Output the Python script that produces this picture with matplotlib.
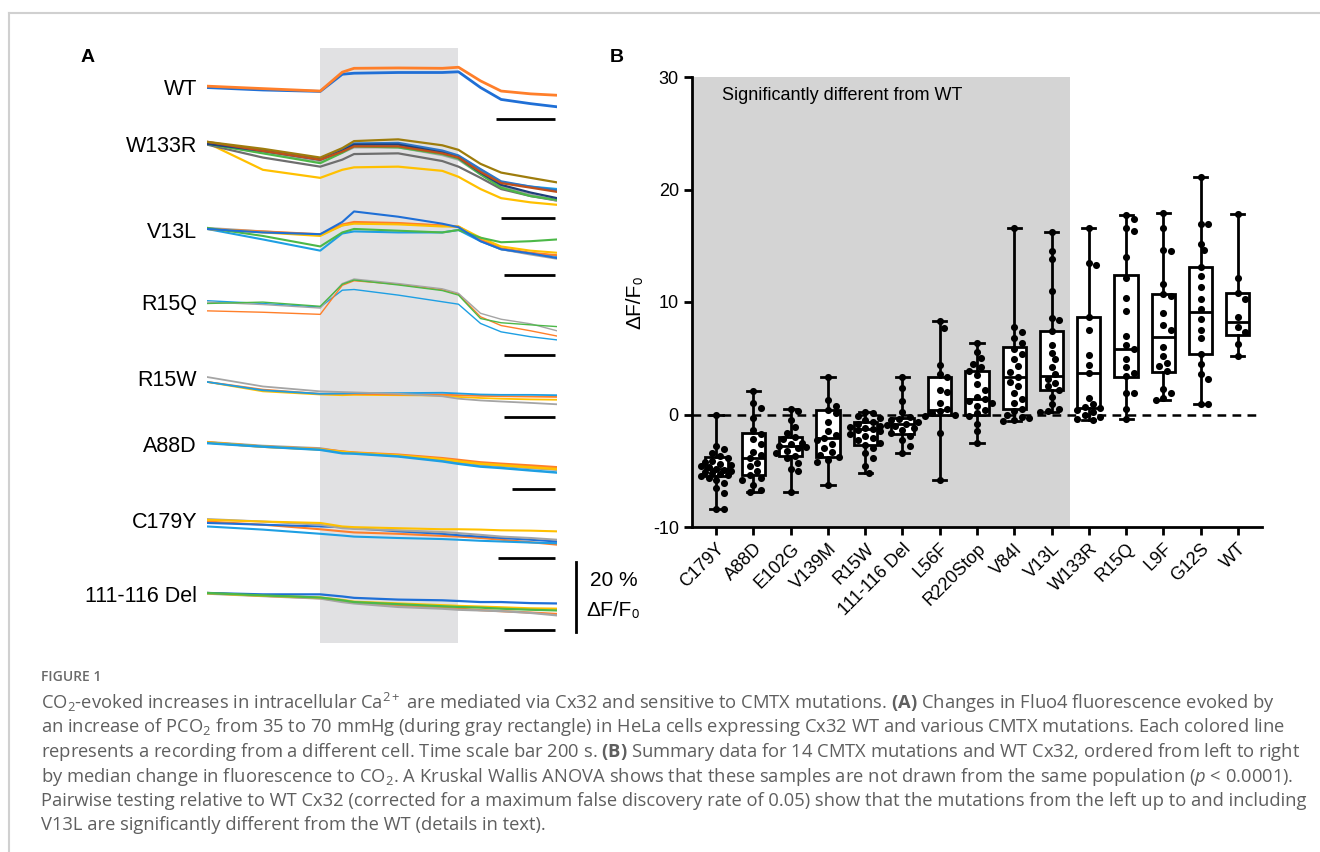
import matplotlib.pyplot as plt
import numpy as np
from matplotlib.patches import Rectangle
from matplotlib.lines import Line2D

W, H = 1320, 852
ARIAL = ['Liberation Sans', 'DejaVu Sans']
CAPFONT = 'Open Sans'

plt.rcParams['axes.unicode_minus'] = False
plt.rcParams['mathtext.fontset'] = 'custom'
plt.rcParams['mathtext.rm'] = CAPFONT
plt.rcParams['mathtext.it'] = CAPFONT + ':italic'
plt.rcParams['mathtext.bf'] = CAPFONT + ':bold'

# ---------------- panel A data (% dF/F0, relative to each group's start) ----------------
trace_time = [0, 190, 385, 460, 500, 650, 800, 855, 930, 1000, 1100, 1190]
stim_on, stim_off = 385, 853

wt = [
    [-0.4, -1.1, -1.5, 3.4, 3.7, 3.9, 3.9, 4.1, -0.4, -3.8, -5.0, -5.9],
    [0.0, -0.7, -1.4, 4.0, 5.1, 5.2, 5.1, 5.4, 1.5, -1.4, -2.2, -2.6],
]
w133r = [
    [0.0, -7.7, -10.0, -7.7, -7.0, -6.8, -8.0, -9.7, -13.2, -15.8, -17.0, -17.7],
    [-0.5, -4.2, -6.8, -4.8, -3.2, -3.0, -5.2, -6.8, -10.0, -13.2, -15.2, -16.5],
    [-0.3, -2.8, -5.2, -2.8, -1.3, -1.3, -3.5, -4.8, -9.0, -12.5, -14.8, -16.5],
    [-0.3, -3.0, -5.8, -2.8, -1.0, -1.3, -3.2, -4.5, -9.0, -12.8, -15.2, -16.3],
    [0.0, -2.0, -4.5, -1.7, -0.3, -0.3, -2.5, -3.8, -7.7, -11.3, -12.5, -13.2],
    [0.0, -2.2, -4.6, -2.0, -0.2, 0.0, -2.2, -3.6, -7.5, -11.0, -12.5, -13.6],
    [-0.3, -2.3, -4.8, -2.3, -0.5, -0.5, -2.8, -4.2, -8.5, -12.0, -14.2, -15.8],
    [0.3, -2.3, -4.8, -2.5, -1.0, -1.0, -3.0, -4.2, -8.3, -11.5, -12.8, -14.0],
    [0.3, -1.7, -4.2, -1.5, 0.5, 1.0, -0.7, -2.0, -6.0, -8.5, -10.0, -11.3],
]
v13l = [
    [0.0, -3.0, -6.2, -1.3, -0.7, -1.0, -1.0, -0.3, -3.5, -5.8, -7.0, -7.7],
    [0.3, -0.7, -1.7, 1.0, 1.7, 1.5, 1.0, 0.5, -3.2, -5.8, -7.3, -8.5],
    [0.0, -0.7, -1.5, 1.3, 2.0, 1.7, 1.0, 0.7, -3.0, -5.5, -6.8, -7.5],
    [0.0, -1.0, -2.0, 1.0, 1.5, 1.3, 0.7, 0.7, -2.5, -5.0, -6.2, -6.8],
    [0.3, -2.0, -5.0, -1.0, 0.0, -0.5, -1.0, -0.3, -2.5, -3.8, -3.5, -3.0],
    [0.0, -1.0, -1.5, 2.0, 5.0, 3.5, 1.5, 0.5, -3.5, -5.8, -7.0, -8.3],
]
r15q = [
    [0.1, -0.7, -1.7, 3.1, 3.3, 1.7, -0.2, -0.9, -6.4, -8.8, -10.2, -11.1],
    [-2.8, -3.2, -3.8, 4.5, 5.8, 4.8, 3.2, 2.0, -4.5, -7.0, -8.5, -10.0],
    [-0.3, -1.0, -2.0, 5.0, 6.3, 5.0, 3.5, 2.2, -3.5, -5.2, -6.5, -8.5],
    [-0.7, -0.3, -1.5, 4.8, 6.0, 4.6, 3.0, 1.7, -5.0, -6.2, -6.8, -7.3],
]
r15w = [
    [-1.4, -4.1, -5.0, -5.2, -5.1, -5.2, -5.3, -5.7, -6.0, -6.2, -6.4, -6.5],
    [-1.4, -3.6, -4.8, -4.8, -4.8, -5.0, -5.0, -5.2, -5.4, -5.5, -5.6, -5.7],
    [-1.4, -3.8, -4.8, -4.7, -4.6, -4.6, -4.5, -4.7, -5.0, -5.1, -5.1, -5.2],
    [0.0, -2.7, -4.1, -4.3, -4.4, -4.8, -5.5, -6.2, -6.7, -7.0, -7.4, -7.8],
]
a88d = [
    [0.3, -0.8, -1.5, -2.5, -2.8, -3.6, -4.8, -5.4, -6.1, -6.5, -7.1, -7.6],
    [0.2, -1.0, -1.7, -2.4, -2.7, -3.3, -4.3, -4.8, -5.5, -5.9, -6.4, -6.9],
    [0.2, -1.0, -1.8, -2.5, -2.8, -3.5, -4.6, -5.2, -5.9, -6.3, -6.9, -7.4],
    [0.0, -1.0, -1.9, -2.9, -3.0, -3.8, -5.2, -5.9, -6.7, -7.1, -7.8, -8.4],
]
c179y = [
    [-0.7, -1.6, -2.9, -3.5, -3.8, -4.2, -4.8, -5.0, -5.4, -5.9, -6.6, -7.3],
    [-2.1, -3.0, -4.2, -4.7, -5.0, -5.4, -5.7, -5.9, -6.2, -6.4, -6.7, -6.9],
    [-1.1, -1.6, -2.1, -2.3, -2.6, -3.5, -4.2, -4.6, -5.0, -5.4, -5.9, -6.4],
    [0.0, -0.7, -1.6, -2.6, -2.8, -3.2, -3.7, -4.0, -4.5, -5.0, -5.4, -5.9],
    [-0.2, -0.7, -1.1, -2.1, -2.3, -2.6, -2.9, -2.9, -3.0, -3.2, -3.3, -3.5],
]
del111 = [
    [0.0, -0.8, -1.5, -2.3, -2.8, -3.6, -4.2, -4.5, -4.9, -5.2, -5.6, -6.0],
    [-0.2, -0.9, -1.6, -2.6, -3.0, -4.0, -4.5, -4.8, -5.0, -5.2, -5.7, -6.4],
    [-0.1, -0.8, -1.3, -2.0, -2.5, -3.0, -3.5, -3.7, -3.9, -4.1, -4.4, -4.5],
    [0.0, -0.4, -0.4, -1.0, -1.4, -1.9, -2.1, -2.3, -2.6, -2.6, -2.9, -3.0],
    [0.0, -0.7, -1.3, -2.1, -2.6, -3.2, -3.8, -4.0, -4.2, -4.5, -4.8, -5.0],
]
groups_a = ['WT', 'W133R', 'V13L', 'R15Q', 'R15W', 'A88D', 'C179Y', '111-116 Del']
traces_a = [wt, w133r, v13l, r15q, r15w, a88d, c179y, del111]
scalebar_s = [202, 185, 173, 172, 172, 146, 194, 172]

# ---------------- panel B data ----------------
mutants = ['C179Y', 'A88D', 'E102G', 'V139M', 'R15W', '111-116 Del', 'L56F', 'R220Stop',
           'V84I', 'V13L', 'W133R', 'R15Q', 'L9F', 'G12S', 'WT']
medians = [-4.8, -3.9, -2.8, -2.1, -1.3, -0.8, 0.4, 1.4, 3.3, 3.4, 3.7, 5.8, 6.9, 9.1, 8.2]
q1 = [-5.5, -5.4, -3.7, -3.8, -2.7, -1.7, 0.0, 0.0, 0.5, 2.2, 0.6, 3.3, 3.8, 5.4, 7.1]
q3 = [-3.8, -1.6, -2.0, 0.4, -0.7, -0.3, 3.3, 3.9, 6.0, 7.4, 8.7, 12.4, 10.7, 13.1, 10.8]
mins = [-8.4, -6.9, -6.9, -6.3, -5.2, -3.4, -5.8, -2.5, -0.6, 0.2, -0.5, -0.4, 1.3, 0.9, 5.2]
maxs = [0.0, 2.1, 0.5, 3.3, 0.2, 3.3, 8.3, 6.4, 16.6, 16.2, 16.6, 17.7, 17.9, 21.1, 17.8]
n_significant = 10

cells = [
    [0.0, -2.8, -3.1, -3.4, -3.7, -3.9, -4.1, -4.2, -4.4, -4.5, -4.6, -4.7, -4.8, -4.9,
     -5.0, -5.1, -5.2, -5.3, -5.4, -5.5, -5.6, -5.8, -6.1, -6.5, -7.0, -8.4, -8.4],
    [2.1, 1.0, 0.6, -0.3, -1.4, -1.7, -2.2, -2.6, -3.3, -3.6, -3.9, -4.3, -4.6, -5.0,
     -5.4, -5.6, -5.8, -6.3, -6.7, -6.9],
    [0.5, 0.3, -0.5, -1.1, -1.6, -2.0, -2.2, -2.5, -2.6, -2.8, -2.9, -3.0, -3.2, -3.4,
     -3.7, -3.9, -4.3, -4.8, -5.0, -6.9],
    [3.3, 1.3, 0.8, 0.4, 0.1, -0.7, -1.5, -1.8, -2.1, -2.3, -2.6, -3.0, -3.3, -3.6,
     -3.8, -4.0, -4.2, -6.3],
    [0.2, 0.1, -0.1, -0.3, -0.5, -0.7, -0.8, -1.0, -1.1, -1.2, -1.3, -1.4, -1.5, -1.7,
     -1.9, -2.1, -2.3, -2.5, -2.7, -3.0, -3.4, -3.9, -4.6, -5.2],
    [3.3, 2.4, 1.2, 0.2, -0.2, -0.4, -0.5, -0.7, -0.8, -0.9, -1.0, -1.2, -1.4, -1.6,
     -1.9, -2.3, -2.8, -3.4],
    [8.3, 7.7, 4.4, 3.6, 3.3, 2.2, 2.0, 1.0, 0.5, 0.3, 0.1, 0.0, -0.1, -1.6, -5.8],
    [6.4, 5.6, 5.0, 4.5, 4.2, 3.9, 3.5, 2.7, 2.2, 1.6, 1.4, 1.2, 1.0, 0.8, 0.4, 0.1,
     -0.1, -0.8, -1.5, -2.5],
    [16.6, 7.8, 7.3, 6.8, 6.4, 5.8, 5.4, 4.9, 4.3, 3.8, 3.3, 2.9, 2.5, 1.9, 1.4, 1.0,
     0.5, 0.3, 0.0, -0.2, -0.3, -0.5, -0.6],
    [16.2, 14.5, 13.8, 11.0, 8.6, 8.4, 7.4, 6.2, 5.5, 4.9, 4.2, 3.6, 3.2, 2.8, 2.5, 2.2,
     1.6, 0.9, 0.5, 0.3, 0.2],
    [16.6, 13.5, 13.3, 8.7, 7.5, 5.3, 4.4, 3.7, 1.5, 0.9, 0.7, 0.6, 0.4, 0.2, 0.0, -0.2,
     -0.4, -0.5],
    [17.7, 17.4, 16.6, 16.3, 14.0, 12.1, 10.4, 9.2, 7.0, 6.2, 5.8, 4.9, 4.2, 3.7, 3.4,
     1.9, 1.9, 0.5, -0.4],
    [17.9, 16.6, 14.6, 14.5, 11.6, 10.7, 10.5, 9.0, 8.0, 7.5, 6.0, 5.2, 4.6, 4.3, 3.9,
     2.3, 1.9, 1.5, 1.3],
    [21.1, 16.9, 16.9, 15.2, 14.6, 13.1, 12.3, 11.3, 10.3, 9.4, 8.5, 7.5, 6.8, 5.4, 4.5,
     3.6, 3.2, 0.9, 0.9],
    [17.8, 12.1, 10.8, 10.3, 8.7, 7.8, 7.3, 6.3, 5.2],
]

caption = [
    r'CO$_2$-evoked increases in intracellular Ca$^{2+}$ are mediated via Cx32 and sensitive to CMTX mutations. $\mathbf{(A)}$ Changes in Fluo4 fluorescence evoked by',
    r'an increase of PCO$_2$ from 35 to 70 mmHg (during gray rectangle) in HeLa cells expressing Cx32 WT and various CMTX mutations. Each colored line',
    r'represents a recording from a different cell. Time scale bar 200 s. $\mathbf{(B)}$ Summary data for 14 CMTX mutations and WT Cx32, ordered from left to right',
    r'by median change in fluorescence to CO$_2$. A Kruskal Wallis ANOVA shows that these samples are not drawn from the same population ($p$ < 0.0001).',
    r'Pairwise testing relative to WT Cx32 (corrected for a maximum false discovery rate of 0.05) show that the mutations from the left up to and including',
    r'V13L are significantly different from the WT (details in text).',
]

# ---------------- styles / layout ----------------
OR, BL, LB, YE = '#FF7F2A', '#1F6FD6', '#1E9FE3', '#FFC000'
GR, GY, DG = '#4CB848', '#A5A5A5', '#6E6E6E'
OL, RU, NV = '#9E7C0C', '#C0501A', '#1F3F7A'
colors_a = [
    [BL, OR],
    [YE, DG, GY, GR, LB, '#2E75C6', NV, RU, OL],
    [LB, GY, OR, YE, GR, BL],
    [LB, OR, GY, GR],
    [YE, OR, LB, GY],
    [GY, OR, YE, LB],
    [OR, LB, BL, GY, YE],
    [OR, GY, YE, BL, GR],
]
lw_a = [2.0, 1.6, 1.5, 1.0, 1.3, 1.8, 1.5, 1.6]
offsets_a = [161.1, 144.9, 120.3, 99.7, 78.0, 59.1, 37.4, 16.3]
bar_y = [151.7, 123.5, 107.1, 84.3, 66.5, 45.9, 26.2, 5.7]
bar_end = 1183
cap_left, cap_width = 41, 1265
cap_top, cap_step = 703, 24.5


def axes_px(fig, x0, y0, x1, y1):
    return fig.add_axes([x0 / W, 1 - y1 / H, (x1 - x0) / W, (y1 - y0) / H])


def swarm(vals, xscale=37.25, yscale=11.25, dot=7.2, step=3.8):
    cands = [0.0]
    for k in range(1, 5):
        cands += [k * step, -k * step]
    placed, offs = [], []
    for v in vals:
        y = v * yscale
        best, best_d = 0.0, -1
        for c in cands:
            d = min([np.hypot(c - px, y - py) for px, py in placed] + [99])
            if d >= dot:
                best = c
                break
            if d > best_d:
                best, best_d = c, d
        placed.append((best, y))
        offs.append(best / xscale)
    return offs


fig = plt.figure(figsize=(W / 100, H / 100), dpi=100)

# frame
fig.add_artist(Line2D([9 / W, 1], [1 - 13 / H] * 2, transform=fig.transFigure,
                      color='#d0d0d0', lw=1.5))
fig.add_artist(Line2D([9 / W] * 2, [0, 1 - 13 / H], transform=fig.transFigure,
                      color='#d0d0d0', lw=1.5))

# ---------------- panel A ----------------
axa = axes_px(fig, 207, 40, 557, 650)
axa.set_xlim(0, 1190)
axa.set_ylim(0, 610 / 3.5)
axa.axis('off')
axa.add_patch(Rectangle((stim_on, 2), stim_off - stim_on, 170, facecolor='#e1e1e3',
                        edgecolor='none', zorder=0))
for name, traces, cols, lw, off, by, sb in zip(groups_a, traces_a, colors_a, lw_a,
                                              offsets_a, bar_y, scalebar_s):
    for tr, c in zip(traces, cols):
        axa.plot(trace_time, np.array(tr) + off, color=c, lw=lw, zorder=2)
    axa.text(-34, off - 1, name, ha='right', va='center', fontsize=15.5, family=ARIAL)
    axa.plot([bar_end - sb, bar_end], [by, by], color='black', lw=2,
             solid_capstyle='butt', clip_on=False)
axa.plot([1255, 1255], [5.1, 25.1], color='black', lw=2, clip_on=False)
axa.text(1303, 20, '20 %', ha='left', va='center', fontsize=15, family=ARIAL)
axa.text(1290, 11.2, 'ΔF/F\u2080', ha='left', va='center', fontsize=15, family=ARIAL)

fig.text(88 / W, 1 - 58 / H, 'A', fontsize=14, weight='bold', family=ARIAL,
         ha='center', va='center')
fig.text(617 / W, 1 - 58 / H, 'B', fontsize=14, weight='bold', family=ARIAL,
         ha='center', va='center')

# ---------------- panel B ----------------
axb = axes_px(fig, 692, 77, 1262, 527)
pos = np.arange(len(mutants))
axb.set_xlim(-0.65, len(mutants) - 0.35)
axb.set_ylim(-10, 30)
axb.axvspan(-0.65, n_significant - 0.5, color='#d4d4d4', lw=0, zorder=0)
axb.axhline(0, color='black', lw=1.8, ls=(0, (3.5, 2.5)), zorder=1)
stats = [dict(med=m, q1=a, q3=b, whislo=lo, whishi=hi, fliers=[])
         for m, a, b, lo, hi in zip(medians, q1, q3, mins, maxs)]
axb.bxp(stats, positions=pos, widths=0.62, capwidths=0.35, patch_artist=True,
        showfliers=False, manage_ticks=False,
        boxprops=dict(facecolor='white', edgecolor='black', linewidth=2),
        medianprops=dict(color='black', linewidth=2),
        whiskerprops=dict(color='black', linewidth=2),
        capprops=dict(color='black', linewidth=2), zorder=2)
for i, vals in enumerate(cells):
    axb.scatter(i + np.array(swarm(vals)), vals, s=26, color='black', lw=0, zorder=3)
axb.text(0.15, 28.4, 'Significantly different from WT', fontsize=13, family=ARIAL,
         va='center', ha='left')
for s in ['top', 'right']:
    axb.spines[s].set_visible(False)
for s in ['left', 'bottom']:
    axb.spines[s].set_linewidth(2)
axb.set_yticks([-10, 0, 10, 20, 30])
axb.set_xticks(pos)
axb.set_xticklabels(mutants, rotation=45, ha='right', va='top', rotation_mode='anchor',
                    family=ARIAL, fontsize=13)
for lab in axb.get_yticklabels():
    lab.set_family(ARIAL)
axb.tick_params(width=2, length=6, labelsize=13)
axb.set_ylabel('ΔF/F\u2080', family=ARIAL, fontsize=15, labelpad=6)

# ---------------- caption ----------------
fig.text(cap_left / W, 1 - 677 / H, 'FIGURE 1', fontsize=10, color='#6a6a6a',
         family=CAPFONT, weight='semibold', va='center')
cap_texts = [fig.text(cap_left / W, 1 - (cap_top + cap_step * k) / H, line, fontsize=12,
                      color='#5f5f5f', family=CAPFONT, va='center')
             for k, line in enumerate(caption)]
# scale the caption so that its widest line spans the text block
renderer = fig.canvas.get_renderer()
widest = max(t.get_window_extent(renderer).width for t in cap_texts)
for t in cap_texts:
    t.set_fontsize(12 * cap_width / widest)

fig.savefig('out.png', dpi=100)
